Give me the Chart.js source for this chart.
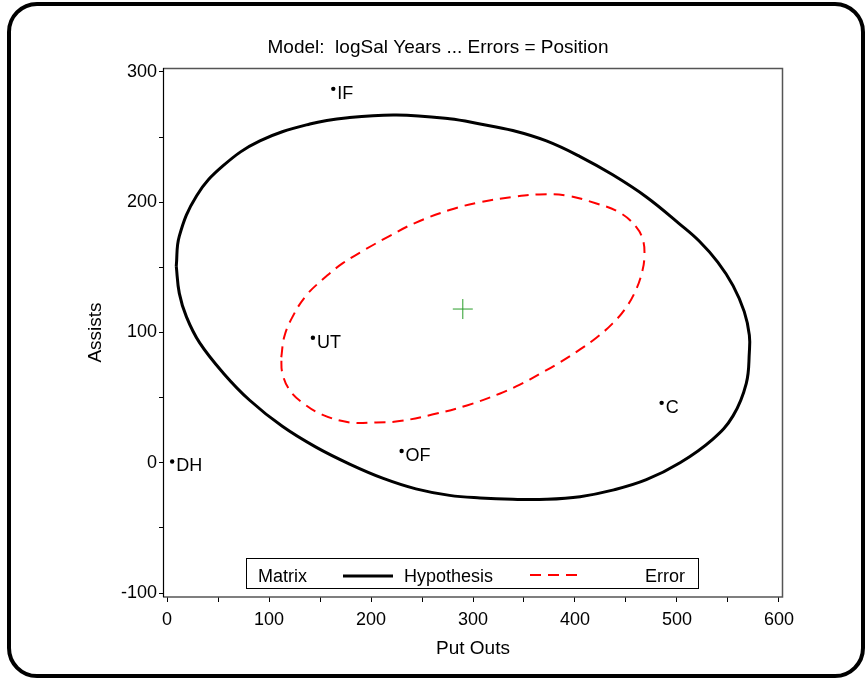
<!DOCTYPE html>
<html>
<head>
<meta charset="utf-8">
<script src="https://cdn.jsdelivr.net/npm/chart.js@4"></script>
<style>
  html, body { margin: 0; padding: 0; background: #fff; }
  #wrap { position: relative; width: 865px; height: 678px; overflow: hidden; }
  #frame {
    position: absolute; left: 7px; top: 2px; width: 858px; height: 676px;
    box-sizing: border-box; border: 4px solid #000; border-radius: 30px;
    pointer-events: none;
  }
</style>
</head>
<body>
<div id="wrap">
  <canvas id="chart" width="865" height="678"></canvas>
  <div id="frame"></div>
</div>
<script>
// ---- data ----
const positions = ['IF', 'UT', 'DH', 'OF', 'C'];
const putOuts = [163, 143, 5, 230, 485];
const assists = [287, 96, 1, 9, 46];

const grandMean = [{ x: 290, y: 118 }];

// Hypothesis ellipse (solid black), traced around the curve
const hypX = [9, 12, 29, 55, 91, 140, 179, 225, 277, 307, 339, 372, 405, 437, 470, 503, 522, 540, 555, 566, 571, 571,
  568, 555, 535, 503, 470, 437, 405, 372, 339, 307, 277, 244, 212, 179, 146, 113, 81, 55, 32, 19, 12, 9];
const hypY = [151, 174, 205, 228, 247, 260, 265, 267, 264, 260, 255, 247, 235, 221, 204, 183, 170, 154, 136, 116, 98, 85,
  61, 36, 18, 0, -13, -21, -26, -28, -28, -27, -25, -20, -12, -1, 12, 28, 48, 69, 92, 112, 130, 151];

// Error ellipse (red dashed)
const errX = [112, 115, 123, 136, 153, 172, 195, 218, 243, 277, 307, 339, 365, 392, 421, 444, 460, 467, 468, 466,
  460, 450, 437, 421, 405, 385, 365, 346, 326, 294, 260, 228, 205, 179, 152, 133, 120, 113, 112];
const errY = [81, 97, 112, 128, 141, 153, 164, 174, 184, 194, 200, 204, 206, 205, 199, 192, 181, 170, 157, 147,
  133, 119, 107, 96, 87, 77, 68, 60, 53, 44, 37, 32, 31, 31, 37, 46, 56, 69, 81];

const xTickValues = [0, 50, 100, 150, 200, 250, 300, 350, 400, 450, 500, 550, 600];
const yTickValues = [-100, -50, 0, 50, 100, 150, 200, 250, 300];

const titleText = 'Model:  logSal Years ... Errors = Position';
const xTitle = 'Put Outs';
const yTitle = 'Assists';
const legendItems = ['Matrix', 'Hypothesis', 'Error'];

// ---- build datasets ----
const zip = (xs, ys) => xs.map((x, i) => ({ x: x, y: ys[i] }));
const FONT = '"Liberation Sans", Arial, sans-serif';

const decorations = {
    id: 'decorations',
    afterDraw(chart) {
        const ctx = chart.ctx;
        const a = chart.chartArea;
        const xs = chart.scales.x, ys = chart.scales.y;
        ctx.save();

        // box around plot area (top / right / bottom in grey)
        ctx.strokeStyle = '#555';
        ctx.lineWidth = 1.5;
        ctx.beginPath();
        ctx.moveTo(a.left, a.top + 0.5);
        ctx.lineTo(a.right - 0.5, a.top + 0.5);
        ctx.lineTo(a.right - 0.5, a.bottom);
        ctx.lineTo(a.left, a.bottom);
        ctx.stroke();
        ctx.strokeStyle = '#000';
        ctx.lineWidth = 1.2;
        ctx.beginPath();
        ctx.moveTo(a.left + 0.5, a.top);
        ctx.lineTo(a.left + 0.5, a.bottom);
        ctx.stroke();

        // point labels
        ctx.fillStyle = '#000';
        ctx.font = '18px ' + FONT;
        ctx.textAlign = 'left';
        ctx.textBaseline = 'middle';
        positions.forEach((p, i) => {
            const px = xs.getPixelForValue(putOuts[i]);
            const py = ys.getPixelForValue(assists[i]);
            ctx.fillText(p, px + 4, py + 5);
        });

        // title and axis titles
        ctx.font = '19px ' + FONT;
        ctx.textAlign = 'center';
        ctx.fillText(titleText, 438, 48);
        ctx.fillText(xTitle, (a.left + a.right) / 2, 649);
        ctx.save();
        ctx.translate(96, (a.top + a.bottom) / 2);
        ctx.rotate(-Math.PI / 2);
        ctx.fillText(yTitle, 0, 0);
        ctx.restore();

        // legend box
        ctx.font = '18px ' + FONT;
        const lx = 246, ly = 558, lw = 452, lh = 30;
        ctx.fillStyle = '#fff';
        ctx.fillRect(lx, ly, lw, lh);
        ctx.strokeStyle = '#000';
        ctx.lineWidth = 1;
        ctx.strokeRect(lx + 0.5, ly + 0.5, lw, lh);
        ctx.fillStyle = '#000';
        ctx.textAlign = 'left';
        const ty = ly + 19;
        ctx.fillText(legendItems[0], 258, ty);
        ctx.fillText(legendItems[1], 404, ty);
        ctx.fillText(legendItems[2], 645, ty);
        ctx.lineWidth = 3;
        ctx.beginPath();
        ctx.moveTo(343, ty - 1);
        ctx.lineTo(393, ty - 1);
        ctx.stroke();
        ctx.strokeStyle = '#ff0000';
        ctx.lineWidth = 2;
        ctx.setLineDash([11, 7]);
        ctx.beginPath();
        ctx.moveTo(530, ty - 2);
        ctx.lineTo(583, ty - 2);
        ctx.stroke();
        ctx.restore();
    }
};

new Chart(document.getElementById('chart'), {
    type: 'scatter',
    data: {
        datasets: [
            {
                label: 'Hypothesis',
                data: zip(hypX, hypY),
                showLine: true,
                borderColor: '#000',
                borderWidth: 3,
                pointRadius: 0,
                tension: 0.4
            },
            {
                label: 'Error',
                data: zip(errX, errY),
                showLine: true,
                borderColor: '#ff0000',
                borderWidth: 2,
                borderDash: [11, 7],
                pointRadius: 0,
                tension: 0.4
            },
            {
                label: 'Positions',
                data: zip(putOuts, assists),
                backgroundColor: '#000',
                borderColor: '#000',
                pointRadius: 2.2,
                borderWidth: 0
            },
            {
                label: 'Mean',
                data: grandMean,
                pointStyle: 'cross',
                pointRadius: 10,
                borderColor: '#2a9d2a',
                borderWidth: 1
            }
        ]
    },
    options: {
        responsive: false,
        animation: false,
        layout: { padding: { left: 0, top: 68, right: 82, bottom: 0 } },
        plugins: {
            legend: { display: false },
            title: { display: false },
            tooltip: { enabled: false }
        },
        scales: {
            x: {
                type: 'linear',
                min: -4,
                max: 604,
                afterBuildTicks: s => { s.ticks = xTickValues.map(v => ({ value: v })); },
                afterFit: s => { s.height = 81; },
                grid: { drawOnChartArea: false, drawTicks: true, tickLength: 5, color: '#000' },
                border: { display: false },
                ticks: {
                    color: '#000',
                    font: { family: FONT, size: 18 },
                    padding: 7,
                    maxRotation: 0,
                    autoSkip: false,
                    callback: v => (v % 100 === 0 ? String(v) : '')
                }
            },
            y: {
                type: 'linear',
                min: -103,
                max: 303,
                afterBuildTicks: s => { s.ticks = yTickValues.map(v => ({ value: v })); },
                afterFit: s => { s.width = 163; },
                grid: { drawOnChartArea: false, drawTicks: true, tickLength: 4, color: '#000' },
                border: { display: false },
                ticks: {
                    color: '#000',
                    font: { family: FONT, size: 18 },
                    padding: 2,
                    autoSkip: false,
                    callback: v => (v % 100 === 0 ? String(v) : '')
                }
            }
        }
    },
    plugins: [decorations]
});
</script>
</body>
</html>
